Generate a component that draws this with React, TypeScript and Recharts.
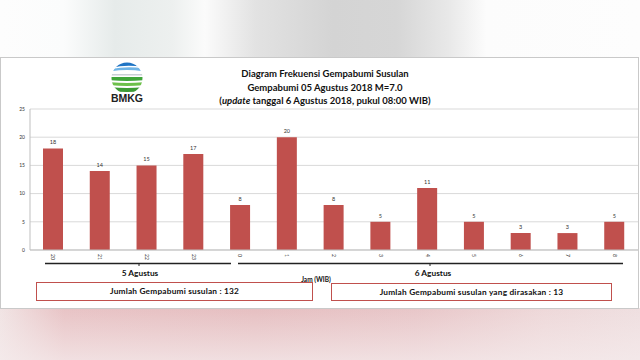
import { Bar, BarChart, CartesianGrid, Cell, LabelList, XAxis, YAxis } from 'recharts';

const hours = ['20', '21', '22', '23', '0', '1', '2', '3', '4', '5', '6', '7', '8'];
const counts = [18, 14, 15, 17, 8, 20, 8, 5, 11, 5, 3, 3, 5];
const yTicks = [0, 5, 10, 15, 20, 25];
const titleLines = ['Diagram Frekuensi Gempabumi Susulan', 'Gempabumi 05 Agustus 2018 M=7.0'];
const totalLabel = 'Jumlah Gempabumi susulan : 132';
const feltLabel = 'Jumlah Gempabumi susulan yang dirasakan : 13';

const data = hours.map((hour, i) => ({ hour, value: counts[i] }));

const BAR_COLOR = '#c0504d';
const FONT = 'Lato, "Open Sans", sans-serif';

function HourTick(props: any) {
  const { x, payload } = props;
  return (
    <text
      x={0}
      y={0}
      transform={`translate(${x - 2},254) rotate(90)`}
      fontSize={5}
      fontFamily={FONT}
      fill="#333"
      textAnchor="start"
    >
      {payload.value}
    </text>
  );
}

function Logo() {
  return (
    <svg width={40} height={46} style={{ position: 'absolute', left: 107, top: 60 }}>
      <defs>
        <clipPath id="logoClip">
          <circle cx={20} cy={18} r={15.5} />
        </clipPath>
      </defs>
      <g clipPath="url(#logoClip)">
        <rect x={0} y={0} width={40} height={40} fill="#ffffff" />
        <path d="M0 2 L40 2 L40 8 Q20 3 0 9 Z" fill="#1f74c4" />
        <path d="M0 10 Q20 5 40 9 L40 12 Q20 8 0 12 Z" fill="#6fb4e6" />
        <rect x={0} y={14} width={40} height={1.5} fill="#c9d0d6" />
        <path d="M0 17 L40 17 L40 20 Q20 22 0 20 Z" fill="#3fa53a" />
        <path d="M0 22 Q20 24 40 22 L40 25 Q20 27 0 25 Z" fill="#6cc04a" />
        <path d="M0 27 Q20 29 40 27 L40 31 Q20 33 0 31 Z" fill="#3d9b35" />
      </g>
      <text x={20} y={42} textAnchor="middle" fontSize={10.5} fontWeight={700} fontFamily="Liberation Sans, Arial, sans-serif" fill="#222">
        BMKG
      </text>
    </svg>
  );
}

export default function App() {
  return (
    <div style={{ position: 'absolute', left: 0, top: 0, width: 640, height: 360, overflow: 'hidden', background: '#ffffff' }}>
      {/* blurred photo surroundings */}
      <div
        style={{
          position: 'absolute',
          left: 0,
          top: 0,
          width: 640,
          height: 58,
          background:
            'linear-gradient(90deg, #fdfdfd 0%, #fbfcfc 10%, #e6ebea 18%, #edf0ef 27%, #fbfbfb 32%, #e2e2e2 40%, #d4d4d4 52%, #d6d6d6 62%, #e8e8e8 70%, #fcfcfc 76%, #fdfdfd 100%)',
        }}
      />
      <div
        style={{
          position: 'absolute',
          left: 0,
          top: 308,
          width: 640,
          height: 52,
          background:
            'linear-gradient(180deg, rgba(255,255,255,0) 0%, rgba(245,236,237,0.7) 100%), linear-gradient(90deg, #f1e4e4 0%, #e8c3c5 10%, #e6bfc1 40%, #e8c6c8 65%, #eed8d9 85%, #efdfe0 100%)',
        }}
      />
      {/* panel */}
      <div
        style={{
          position: 'absolute',
          left: 0,
          top: 57,
          width: 637,
          height: 250,
          background: '#ffffff',
          border: '1px solid #c9c9c9',
        }}
      />
      <Logo />
      <div
        style={{
          position: 'absolute',
          left: 170,
          top: 67,
          width: 310,
          textAlign: 'center',
          fontFamily: FONT,
          fontWeight: 700,
          fontSize: 9.5,
          lineHeight: '13.5px',
          color: '#111',
        }}
      >
        <div>{titleLines[0]}</div>
        <div>{titleLines[1]}</div>
        <div>
          (<i>update</i> tanggal 6 Agustus 2018, pukul 08:00 WIB)
        </div>
      </div>

      <div style={{ position: 'absolute', left: 0, top: 0 }}>
        <BarChart width={640} height={360} data={data} margin={{ top: 109, right: 2, bottom: 90, left: 0 }}>
          <CartesianGrid vertical={false} stroke="#d9d9d9" strokeWidth={1} />
          <XAxis
            dataKey="hour"
            height={20}
            interval={0}
            tickLine={false}
            axisLine={{ stroke: '#bfbfbf' }}
            tick={<HourTick />}
          />
          <YAxis
            width={30}
            domain={[0, 25]}
            ticks={yTicks}
            tickLine={false}
            tickSize={3}
            tickMargin={2}
            axisLine={{ stroke: '#bfbfbf' }}
            tick={{ fontSize: 5, fill: '#333', fontFamily: FONT }}
          />
          <Bar dataKey="value" barSize={20} isAnimationActive={false}>
            {data.map((d) => (
              <Cell key={d.hour} fill={BAR_COLOR} />
            ))}
            <LabelList dataKey="value" position="top" offset={4} style={{ fontSize: 5.5, fill: '#333', fontFamily: FONT }} />
          </Bar>
        </BarChart>
      </div>

      {/* date brackets */}
      <svg width={640} height={360} style={{ position: 'absolute', left: 0, top: 0, pointerEvents: 'none' }}>
        <line x1={45} y1={263.5} x2={231} y2={263.5} stroke="#222" strokeWidth={1.5} />
        <line x1={139} y1={263.5} x2={139} y2={266} stroke="#222" strokeWidth={1} />
        <line x1={238} y1={263.5} x2={623} y2={263.5} stroke="#222" strokeWidth={1.5} />
        <line x1={430} y1={263.5} x2={430} y2={266} stroke="#222" strokeWidth={1} />
        <text x={140} y={276} textAnchor="middle" fontSize={8.3} fontWeight={700} fontFamily={FONT} fill="#111">
          5 Agustus
        </text>
        <text x={433} y={276} textAnchor="middle" fontSize={8.3} fontWeight={700} fontFamily={FONT} fill="#111">
          6 Agustus
        </text>
        <text x={316} y={282} textAnchor="middle" fontSize={6.5} fontWeight={700} fontFamily={FONT} fill="#111">
          Jam (WIB)
        </text>
      </svg>

      {/* summary boxes */}
      <div
        style={{
          position: 'absolute',
          left: 36,
          top: 282,
          width: 275,
          height: 17,
          border: `1.5px solid ${BAR_COLOR}`,
          fontFamily: FONT,
          fontWeight: 700,
          fontSize: 8.3,
          letterSpacing: 0.2,
          lineHeight: '17px',
          textAlign: 'center',
          color: '#111',
          background: '#fff',
        }}
      >
        {totalLabel}
      </div>
      <div
        style={{
          position: 'absolute',
          left: 331,
          top: 283,
          width: 279,
          height: 16,
          border: `1.5px solid ${BAR_COLOR}`,
          fontFamily: FONT,
          fontWeight: 700,
          fontSize: 8.3,
          letterSpacing: 0.2,
          lineHeight: '16px',
          textAlign: 'center',
          color: '#111',
          background: '#fff',
        }}
      >
        {feltLabel}
      </div>
    </div>
  );
}
